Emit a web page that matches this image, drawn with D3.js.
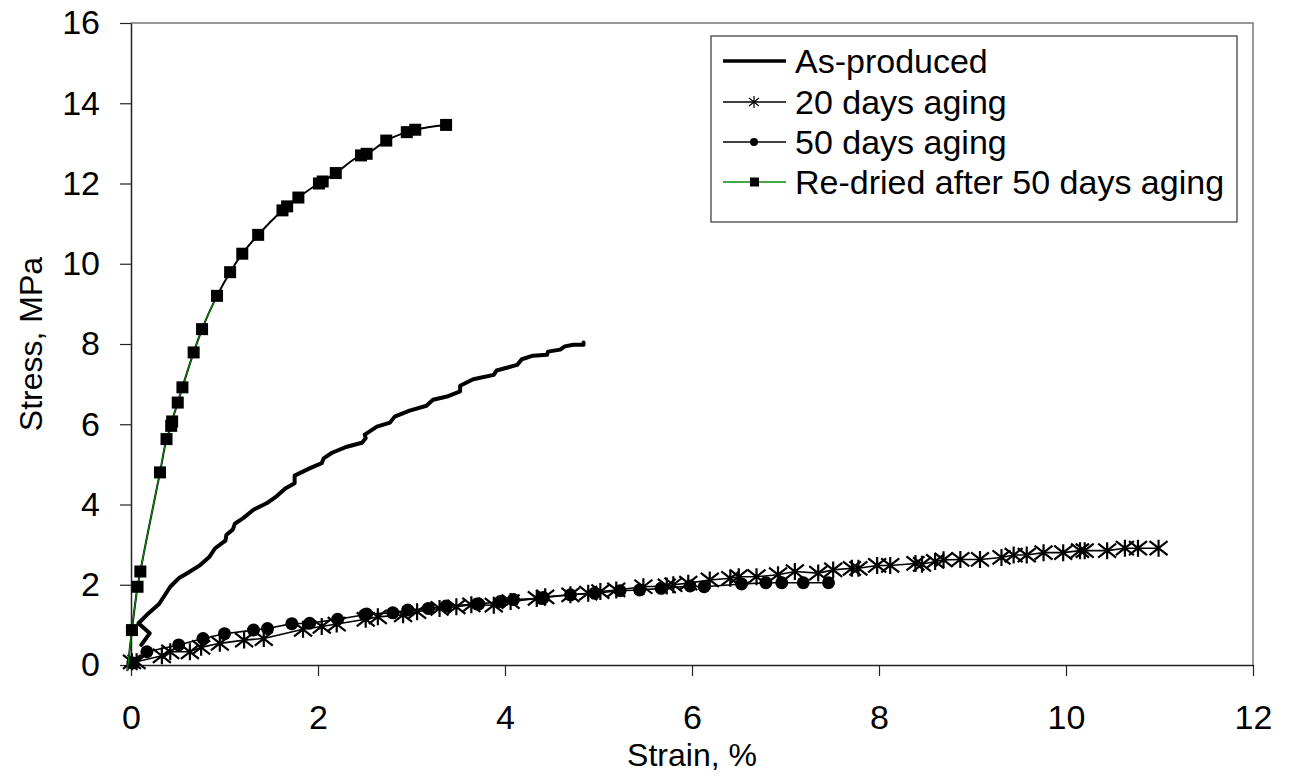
<!DOCTYPE html>
<html>
<head>
<meta charset="utf-8">
<script src="https://cdn.jsdelivr.net/npm/d3@7/dist/d3.min.js"></script>
<style>
  html, body { margin: 0; padding: 0; background: #fff; }
  svg { display: block; font-family: "Liberation Sans", Arial, sans-serif; }
</style>
</head>
<body>
<svg id="chart" width="1291" height="782"></svg>
<script>
// Stress-strain curves: [strain %, stress MPa]
const asProduced = [
  [0.11, 0.50], [0.20, 0.79], [0.08, 1.04], [0.17, 1.25], [0.30, 1.52], [0.42, 1.95],
  [0.51, 2.16], [0.61, 2.30], [0.74, 2.49], [0.84, 2.70], [0.90, 2.91], [1.01, 3.10],
  [1.02, 3.24], [1.09, 3.38], [1.11, 3.52], [1.20, 3.66], [1.31, 3.87], [1.45, 4.03],
  [1.56, 4.21], [1.65, 4.40], [1.75, 4.53], [1.75, 4.72], [1.91, 4.90], [2.04, 5.03],
  [2.06, 5.15], [2.15, 5.29], [2.31, 5.44], [2.47, 5.54], [2.51, 5.65], [2.50, 5.74],
  [2.63, 5.94], [2.77, 6.04], [2.82, 6.19], [2.98, 6.34], [3.16, 6.46], [3.23, 6.61],
  [3.38, 6.69], [3.52, 6.82], [3.52, 6.96], [3.66, 7.12], [3.88, 7.23], [3.91, 7.34],
  [4.13, 7.48], [4.18, 7.62], [4.30, 7.71], [4.45, 7.73], [4.46, 7.81], [4.59, 7.86],
  [4.64, 7.94], [4.73, 7.98], [4.84, 7.98], [4.84, 8.04]
];

const aged20 = [
  [0.01, 0.08], [0.06, 0.08], [0.33, 0.23], [0.42, 0.33], [0.63, 0.33], [0.75, 0.44],
  [0.95, 0.54], [1.21, 0.62], [1.42, 0.66], [1.84, 0.89], [2.04, 0.96], [2.20, 1.02],
  [2.51, 1.14], [2.64, 1.20], [2.91, 1.25], [3.06, 1.33], [3.30, 1.41], [3.48, 1.45],
  [3.64, 1.50], [3.88, 1.49], [4.06, 1.58], [4.34, 1.66], [4.43, 1.70], [4.70, 1.75],
  [4.89, 1.79], [5.02, 1.83], [5.19, 1.87], [5.48, 1.95], [5.73, 1.97], [5.80, 2.00],
  [5.96, 2.04], [6.19, 2.12], [6.41, 2.16], [6.50, 2.20], [6.69, 2.20], [6.92, 2.25],
  [7.10, 2.33], [7.35, 2.29], [7.51, 2.37], [7.71, 2.41], [7.78, 2.41], [7.98, 2.48],
  [8.12, 2.48], [8.39, 2.53], [8.46, 2.51], [8.60, 2.58], [8.69, 2.62], [8.87, 2.63],
  [9.08, 2.63], [9.31, 2.68], [9.44, 2.74], [9.58, 2.74], [9.76, 2.80], [9.97, 2.80],
  [10.15, 2.85], [10.20, 2.85], [10.44, 2.85], [10.63, 2.91], [10.77, 2.91], [10.99, 2.91]
];

const aged50 = [
  [0.02, 0.05], [0.17, 0.33], [0.51, 0.50], [0.77, 0.66], [1.00, 0.78], [1.31, 0.87],
  [1.46, 0.91], [1.72, 1.03], [1.91, 1.04], [2.21, 1.14], [2.50, 1.25], [2.52, 1.27],
  [2.80, 1.30], [2.96, 1.37], [3.18, 1.41], [3.37, 1.47], [3.70, 1.52], [3.72, 1.52],
  [3.95, 1.58], [4.09, 1.63], [4.39, 1.66], [4.41, 1.68], [4.70, 1.75], [4.96, 1.79],
  [5.23, 1.85], [5.44, 1.87], [5.67, 1.91], [5.98, 1.97], [6.13, 1.95], [6.53, 2.02],
  [6.79, 2.05], [6.96, 2.05], [7.19, 2.05], [7.46, 2.05]
];

const reDried = [
  [0.01, 0.87], [0.07, 1.95], [0.10, 2.33], [0.31, 4.80], [0.38, 5.63], [0.43, 5.96],
  [0.44, 6.07], [0.50, 6.54], [0.55, 6.92], [0.67, 7.79], [0.76, 8.37], [0.92, 9.20],
  [1.06, 9.79], [1.19, 10.25], [1.36, 10.72], [1.62, 11.33], [1.67, 11.43], [1.79, 11.65],
  [2.01, 12.00], [2.05, 12.05], [2.19, 12.26], [2.46, 12.70], [2.52, 12.74], [2.73, 13.07],
  [2.95, 13.28], [3.04, 13.34], [3.37, 13.46]
];
// Re-dried curve begins just below the origin, before the first recorded marker
const reDriedStart = [-0.04, -0.15];

const xTicks = [0, 2, 4, 6, 8, 10, 12];
const yTicks = [0, 2, 4, 6, 8, 10, 12, 14, 16];
const seriesNames = ["As-produced", "20 days aging", "50 days aging", "Re-dried after 50 days aging"];

const svg = d3.select("#chart");
const plot = { left: 131, right: 1253, top: 23, bottom: 665 };
const FONT = "'Liberation Sans', Arial, sans-serif";

const x = d3.scaleLinear().domain([0, 12]).range([plot.left, plot.right]);
const y = d3.scaleLinear().domain([0, 16]).range([plot.bottom, plot.top]);

// Plot area frame (top and right sides)
svg.append("path")
  .attr("d", `M${plot.left},${plot.top}H${plot.right}V${plot.bottom}`)
  .attr("fill", "none").attr("stroke", "#777").attr("stroke-width", 1.5);

// Axes
const xAxis = svg.append("g")
  .attr("transform", `translate(0,${plot.bottom})`)
  .call(d3.axisBottom(x).tickValues(xTicks).tickFormat(d3.format("d"))
    .tickSize(11).tickSizeOuter(0).tickPadding(29));
const yAxis = svg.append("g")
  .attr("transform", `translate(${plot.left},0)`)
  .call(d3.axisLeft(y).tickValues(yTicks).tickFormat(d3.format("d"))
    .tickSize(11).tickSizeOuter(0).tickPadding(20));

[xAxis, yAxis].forEach(g => {
  g.attr("font-size", null).attr("font-family", null);
  g.select(".domain").attr("stroke", "#222").attr("stroke-width", 1.5);
  g.selectAll(".tick line").attr("stroke", "#222").attr("stroke-width", 1.2);
  g.selectAll(".tick text").attr("fill", "#000")
    .style("font-size", "34px").style("font-family", FONT);
});

// Axis titles
svg.append("text")
  .attr("x", (plot.left + plot.right) / 2).attr("y", 766)
  .attr("text-anchor", "middle").style("font-size", "32px").text("Strain, %");
svg.append("text")
  .attr("transform", `translate(42,${(plot.top + plot.bottom) / 2}) rotate(-90)`)
  .attr("text-anchor", "middle").style("font-size", "32px").text("Stress, MPa");

const line = d3.line().x(d => x(d[0])).y(d => y(d[1]));
const smooth = d3.line().x(d => x(d[0])).y(d => y(d[1])).curve(d3.curveMonotoneX);

// Six-armed asterisk marker: two diagonals plus a vertical stroke
function asteriskPath(cx, cy, rx, ry, rv) {
  const p = d3.path();
  p.moveTo(cx - rx, cy - ry); p.lineTo(cx + rx, cy + ry);
  p.moveTo(cx - rx, cy + ry); p.lineTo(cx + rx, cy - ry);
  p.moveTo(cx, cy - rv); p.lineTo(cx, cy + rv);
  return p.toString();
}

// 20 days aging
svg.append("path").datum(aged20).attr("d", line)
  .attr("fill", "none").attr("stroke", "#000").attr("stroke-width", 1.6);
svg.append("g").selectAll("path").data(aged20).join("path")
  .attr("d", d => asteriskPath(x(d[0]), y(d[1]), 9, 7, 8.5))
  .attr("stroke", "#000").attr("stroke-width", 2.2).attr("fill", "none");

// 50 days aging
svg.append("path").datum(aged50).attr("d", line)
  .attr("fill", "none").attr("stroke", "#000").attr("stroke-width", 1.6);
svg.append("g").selectAll("circle").data(aged50).join("circle")
  .attr("cx", d => x(d[0])).attr("cy", d => y(d[1])).attr("r", 6.5).attr("fill", "#000");

// As-produced
svg.append("path").datum(asProduced).attr("d", line)
  .attr("fill", "none").attr("stroke", "#000").attr("stroke-width", 4)
  .attr("stroke-linejoin", "round").attr("stroke-linecap", "round");

// Re-dried after 50 days aging
const reDriedLine = [reDriedStart].concat(reDried);
svg.append("path").datum(reDriedLine).attr("d", smooth)
  .attr("fill", "none").attr("stroke", "#000").attr("stroke-width", 2);
svg.append("path").datum(reDriedLine.filter(d => d[1] < 9.5)).attr("d", smooth)
  .attr("fill", "none").attr("stroke", "#0a8a0a").attr("stroke-width", 1.2);
svg.append("g").selectAll("rect").data(reDried).join("rect")
  .attr("x", d => x(d[0]) - 6).attr("y", d => y(d[1]) - 6)
  .attr("width", 12).attr("height", 12).attr("fill", "#000");

// Legend
const leg = svg.append("g");
leg.append("rect").attr("x", 711).attr("y", 36).attr("width", 526).attr("height", 186)
  .attr("fill", "#fff").attr("stroke", "#333").attr("stroke-width", 1.2);
const rowY = [61, 102, 142, 182];
seriesNames.forEach((name, i) => {
  const cy = rowY[i];
  leg.append("line").attr("x1", 723).attr("x2", 786).attr("y1", cy).attr("y2", cy)
    .attr("stroke", i === 3 ? "#0a8a0a" : "#000").attr("stroke-width", i === 0 ? 3.5 : 1.3);
  if (i === 1) {
    leg.append("path").attr("d", asteriskPath(754, cy, 5, 4, 6))
      .attr("stroke", "#000").attr("stroke-width", 1.2).attr("fill", "none");
  } else if (i === 2) {
    leg.append("circle").attr("cx", 754).attr("cy", cy).attr("r", 4).attr("fill", "#000");
  } else if (i === 3) {
    leg.append("rect").attr("x", 750).attr("y", cy - 4.5).attr("width", 9).attr("height", 9).attr("fill", "#000");
  }
  leg.append("text").attr("x", 795).attr("y", cy).attr("dy", "0.35em")
    .style("font-size", "34px").text(name);
});
</script>
</body>
</html>
